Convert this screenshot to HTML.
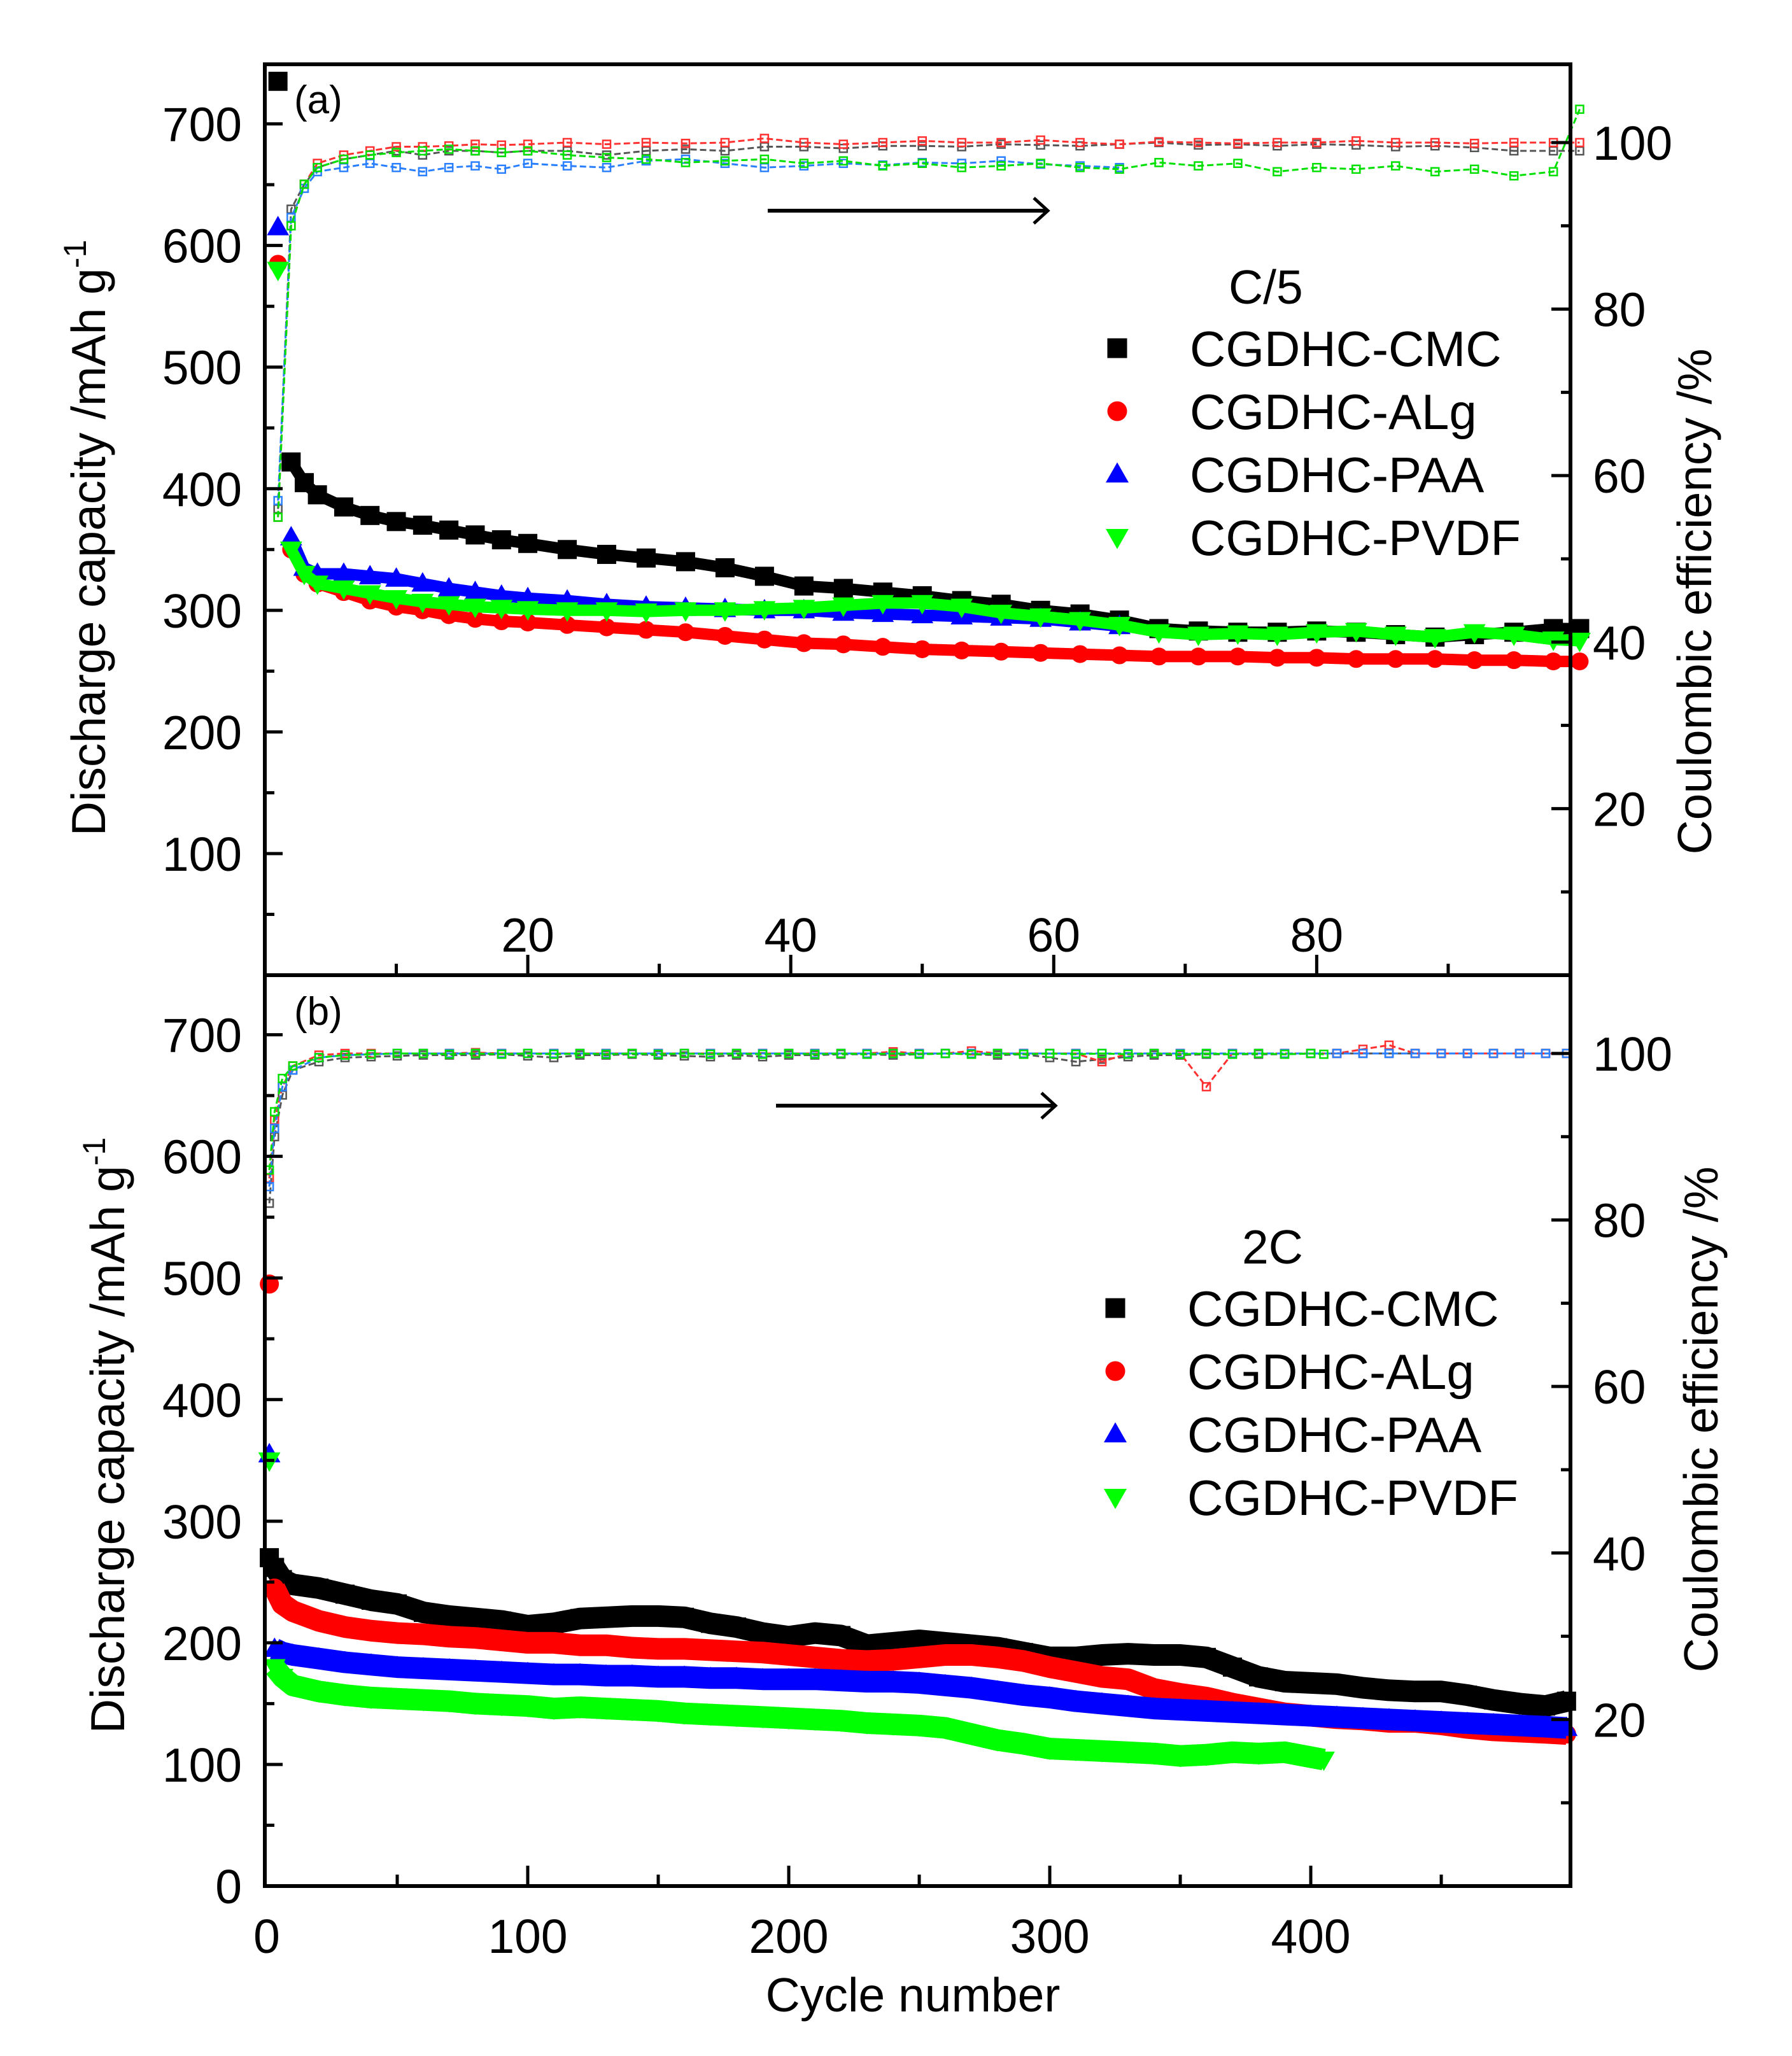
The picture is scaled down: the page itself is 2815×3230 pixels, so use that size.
<!DOCTYPE html>
<html><head><meta charset="utf-8"><style>
html,body{margin:0;padding:0;background:#fff;}
svg{display:block;font-family:"Liberation Sans",Arial,sans-serif;}
</style></head><body>
<svg id="chart" width="2815" height="3230" viewBox="0 0 2815 3230" xmlns="http://www.w3.org/2000/svg">
<rect x="0" y="0" width="2815" height="3230" fill="#fff"/>
</svg>
<script>
// ---------- Panel (a) C/5 data ----------
const cyclesA = [1,2,3,4,6,8,10,12,14,16,18,20,23,26,29,32,35,38,41,44,47,50,53,56,59,62,65,68,71,74,77,80,83,86,89,92,95,98,100];
const cmcA  = [735,422,405,395,385,378,373,370,366,362,358,355,350,346,343,340,335,328,320,318,315,312,308,305,300,297,292,285,283,282,282,283,282,280,278,280,282,285,285];
const algA  = [585,350,330,322,315,308,303,300,296,293,291,290,288,286,284,282,279,276,273,272,270,268,267,266,265,264,263,262,262,262,261,261,260,260,260,259,259,258,258];
const paaA  = [615,360,335,330,330,328,326,322,318,315,312,310,308,305,303,302,301,300,300,298,297,296,295,294,293,290,287];
const pvdfA = [580,350,330,322,318,314,310,307,305,303,302,301,300,300,299,300,300,301,302,304,306,306,303,298,295,292,288,282,280,281,280,282,283,280,278,282,280,276,275];
const ceCmcA  = [56,92,95,97,98,98.5,99,98.5,99,99,98.8,99,99,98.5,99,99.2,99,99.5,99.5,99.3,99.6,99.6,99.5,99.8,99.7,99.6,99.8,100,99.7,99.8,99.6,99.8,99.7,99.5,99.6,99.4,99,99,99];
const ceAlgA  = [55,90,95,97.5,98.5,99,99.5,99.5,99.6,99.8,99.7,99.8,100,99.8,100,99.9,100,100.5,100,99.8,100,100.2,100,100,100.3,100,99.8,100.1,100,99.9,100,100,100.2,100,100,99.9,100,100,100];
const cePaaA  = [57,91,94.5,96.5,97,97.5,97,96.5,97,97.2,96.8,97.5,97.2,97,97.8,98,97.5,97,97.2,97.5,97.3,97.6,97.5,97.8,97.4,97.2,97];
const cePvdfA = [55,90,95,97,98,98.5,98.8,99,99.2,99,98.8,99,98.5,98.2,98,97.6,97.8,98,97.5,97.8,97.2,97.5,97,97.2,97.5,97,96.8,97.6,97.2,97.5,96.5,97,96.8,97.2,96.5,96.8,96,96.5,104];

// ---------- Panel (b) 2C data ----------
const cyclesB = [1,3,6,10,20,30,40,50,60,70,80,90,100,110,120,130,140,150,160,170,180,190,200,210,220,230,240,250,260,270,280,290,300,310,320,330,340,350,360,370,380,390,400,410,420,430,440,450,460,470,480,490,498];
const cmcB  = [270,262,252,248,245,240,235,232,225,222,220,218,214,216,220,221,222,222,221,216,213,208,205,208,206,198,200,202,200,198,196,192,188,188,190,191,190,190,188,180,172,168,167,166,163,161,160,160,157,153,150,148,152];
const algB  = [495,245,232,226,218,213,210,208,207,205,204,202,200,200,198,198,196,195,195,194,193,192,190,188,186,185,186,188,190,190,188,185,180,176,172,170,162,158,155,150,146,142,140,138,137,135,135,133,130,128,127,126,125];
const paaB  = [355,195,192,190,187,184,182,180,179,178,177,176,175,174,174,173,173,172,172,171,171,170,170,170,169,168,168,167,165,163,160,157,155,152,150,148,146,145,144,143,142,141,140,139,138,137,136,135,134,133,132,131,130];
const pvdfB = [350,180,172,165,160,157,155,154,153,152,150,149,148,146,147,146,145,144,142,141,140,139,138,137,136,134,133,132,130,125,120,117,113,112,111,110,109,107,108,110,109,110,106,104];
const ceCmcB  = [82,90,95,98,99,99.5,99.6,99.7,99.8,99.8,99.8,99.9,99.7,99.5,99.8,99.8,99.9,99.8,99.7,99.6,99.8,99.6,99.8,99.8,99.9,99.9,99.8,99.9,100,99.9,99.8,99.9,99.5,99,99.3,99.6,99.8,99.8,99.9,99.9,99.9,99.9,100,100,100,100,100,100,100,100,100,100,100];
const ceAlgB  = [85,92,96,98.5,99.8,100,100,100,100,100,100.1,100,100,100,100,100,100,100,100,100,100,100,100,100,100,100,100.2,100,100,100.3,100,100,100,100,99,100,100,100,96,100,100,100,100,100,100.5,101,100,100,100,100,100,100,100];
const cePaaB  = [84,91,96,98,99.5,99.8,99.9,100,100,100,100,100,100,100,100,100,100,100,100,100,100,100,100,100,100,100,100,100,100,100,100,100,100,100,100,100,100,100,100,100,100,100,100,100,100,100,100,100,100,100,100,100,100];
const cePvdfB = [86,93,97,98.5,99.5,99.8,99.9,100,100,99.9,100,99.9,100,99.9,100,99.9,100,99.9,100,99.9,100,99.9,100,99.9,100,99.9,100,99.9,100,99.9,100,99.9,100,99.9,100,99.9,100,99.9,100,99.9,100,99.9,100,99.9];

const NS = "http://www.w3.org/2000/svg";
const svg = document.getElementById('chart');
function mk(tag, attrs, parent){ const e=document.createElementNS(NS,tag); for(const k in attrs) e.setAttribute(k,attrs[k]); (parent||svg).appendChild(e); return e; }

const L=416, R=2467;
const panels = {
  a:{top:101,bottom:1532,xmax:99.3,x0:L},
  b:{top:1532,bottom:2963,xmax:499.5,x0:419}
};
const VMAX=749, CEMAX=109.4;
function xS(p,c){ return p.x0 + c*(R-p.x0)/p.xmax; }
function yL(p,v){ return p.bottom - v*(p.bottom-p.top)/VMAX; }
function yR(p,v){ return p.bottom - v*(p.bottom-p.top)/CEMAX; }

const colors={cmc:'#000000',alg:'#ff0000',paa:'#0000ff',pvdf:'#00ff00'};
const ceColors={cmc:'#555555',alg:'#ff3030',paa:'#2a7fff',pvdf:'#00e000'};
const shapes={cmc:'square',alg:'circle',paa:'up',pvdf:'down'};

function marker(kind,x,y,s,fill,g){
  let e;
  if(kind==='square') e=mk('rect',{x:x-s/2,y:y-s/2,width:s,height:s,fill:fill},g);
  else if(kind==='circle') e=mk('circle',{cx:x,cy:y,r:s/2,fill:fill},g);
  else if(kind==='up') e=mk('polygon',{points:`${x},${y-s*0.6} ${x-s*0.58},${y+s*0.42} ${x+s*0.58},${y+s*0.42}`,fill:fill},g);
  else e=mk('polygon',{points:`${x},${y+s*0.6} ${x-s*0.58},${y-s*0.42} ${x+s*0.58},${y-s*0.42}`,fill:fill},g);
  return e;
}

function drawCE(p,key,cycles,vals,name){
  const g=mk('g',{});
  
  
  const pts=vals.map((v,i)=>xS(p,cycles[i]).toFixed(1)+','+yR(p,v).toFixed(1)).join(' ');
  mk('polyline',{points:pts,fill:'none',stroke:ceColors[key],'stroke-width':3,'stroke-dasharray':'10 5'},g);
  vals.forEach((v,i)=>{
    const m=mk('rect',{x:xS(p,cycles[i])-6,y:yR(p,v)-6,width:12,height:12,fill:'none',stroke:ceColors[key],'stroke-width':2.5},g);
    
    
  });
}
function drawCap(p,key,cycles,vals,name,band,ms){
  const g=mk('g',{});
  
  
  const pts=vals.slice(1).map((v,i)=>xS(p,cycles[i+1]).toFixed(1)+','+yL(p,v).toFixed(1)).join(' ');
  mk('polyline',{points:pts,fill:'none',stroke:colors[key],'stroke-width':band,'stroke-linejoin':'round'},g);
  vals.forEach((v,i)=>{
    const m=marker(shapes[key],xS(p,cycles[i]),yL(p,v),ms,colors[key],g);
    
    
  });
}

// CE series
drawCE(panels.a,'cmc',cyclesA,ceCmcA,'ce-cmc-a');
drawCE(panels.a,'alg',cyclesA,ceAlgA,'ce-alg-a');
drawCE(panels.a,'paa',cyclesA.slice(0,cePaaA.length),cePaaA,'ce-paa-a');
drawCE(panels.a,'pvdf',cyclesA,cePvdfA,'ce-pvdf-a');
drawCE(panels.b,'cmc',cyclesB,ceCmcB,'ce-cmc-b');
drawCE(panels.b,'alg',cyclesB,ceAlgB,'ce-alg-b');
drawCE(panels.b,'paa',cyclesB,cePaaB,'ce-paa-b');
drawCE(panels.b,'pvdf',cyclesB.slice(0,cePvdfB.length-1).concat([405]),cePvdfB,'ce-pvdf-b');

// capacity series
drawCap(panels.a,'cmc',cyclesA,cmcA,'capacity-cmc-a',18,30);
drawCap(panels.a,'alg',cyclesA,algA,'capacity-alg-a',18,28);
drawCap(panels.a,'paa',cyclesA.slice(0,paaA.length),paaA,'capacity-paa-a',18,30);
drawCap(panels.a,'pvdf',cyclesA,pvdfA,'capacity-pvdf-a',18,30);
drawCap(panels.b,'cmc',cyclesB,cmcB,'capacity-cmc-b',34,30);
drawCap(panels.b,'alg',cyclesB,algB,'capacity-alg-b',34,30);
drawCap(panels.b,'paa',cyclesB,paaB,'capacity-paa-b',34,30);
drawCap(panels.b,'pvdf',cyclesB.slice(0,pvdfB.length-1).concat([405]),pvdfB,'capacity-pvdf-b',34,30);

// axes
function txt(x,y,s,size,anchor,name,extra){
  const t=mk('text',Object.assign({x:x,y:y,'font-size':size,'text-anchor':anchor||'start',fill:'#000'},extra||{}));
  t.textContent=s;
  
  
  return t;
}
const leftTicks=[0,100,200,300,400,500,600,700];
const rightTicks=[20,40,60,80,100];
const xTicksA=[20,40,60,80];
const xTicksB=[0,100,200,300,400];
['a','b'].forEach(k=>{
  const p=panels[k];
  const frame=mk('rect',{x:L,y:p.top,width:R-L,height:p.bottom-p.top,fill:'none',stroke:'#000','stroke-width':6});
  
  
  for(let v=50; v<VMAX; v+=50){
    const major=v%100===0, y=yL(p,v);
    mk('line',{x1:L,x2:L+(major?28:15),y1:y,y2:y,stroke:'#000','stroke-width':5});
  }
  leftTicks.forEach(v=>{ if(k==='a'&&v===0) return; txt(380,yL(p,v)+27,String(v),75,'end','left-tick-label'); });
  for(let v=10; v<CEMAX; v+=10){
    const major=v%20===0, y=yR(p,v);
    mk('line',{x1:R,x2:R-(major?30:15),y1:y,y2:y,stroke:'#000','stroke-width':5});
  }
  rightTicks.forEach(v=>txt(2502,yR(p,v)+27,String(v),75,'start','right-tick-label'));
  const step=k==='a'?10:50;
  for(let c=step;c<p.xmax;c+=step){
    const major=(k==='a'?c%20===0:c%100===0), x=xS(p,c);
    mk('line',{x1:x,x2:x,y1:p.bottom,y2:p.bottom-(major?32:18),stroke:'#000','stroke-width':5});
  }
});
xTicksA.forEach(c=>txt(xS(panels.a,c),1495,String(c),75,'middle','x-tick-label-a'));
xTicksB.forEach(c=>txt(xS(panels.b,c),3068,String(c),75,'middle','x-tick-label-b'));

txt(1434,3160,'Cycle number',75,'middle','x-axis-title');
function vtitle(x,y,main,sup,name){
  const t=mk('text',{x:0,y:0,'font-size':75,'text-anchor':'middle',transform:`translate(${x},${y}) rotate(-90)`,fill:'#000'});
  
  
  t.appendChild(document.createTextNode(main));
  if(sup){ const s=document.createElementNS(NS,'tspan'); s.setAttribute('dy','-30'); s.setAttribute('font-size','50'); s.textContent=sup; t.appendChild(s); }
}
vtitle(165,845,'Discharge capacity /mAh g','-1','y-axis-title-a');
vtitle(195,2255,'Discharge capacity /mAh g','-1','y-axis-title-b');
vtitle(2688,945,'Coulombic efficiency /%','', 'y2-axis-title-a');
vtitle(2698,2230,'Coulombic efficiency /%','', 'y2-axis-title-b');

txt(462,178,'(a)',62,'start','panel-label-a');
txt(462,1610,'(b)',62,'start','panel-label-b');

function arrow(x1,x2,y,name){
  const g=mk('g',{});
  
  
  mk('line',{x1:x1,x2:x2-4,y1:y,y2:y,stroke:'#000','stroke-width':6},g);
  mk('path',{d:`M${x2-22},${y-20} L${x2},${y} L${x2-22},${y+20}`,fill:'none',stroke:'#000','stroke-width':5},g);
}
arrow(1206,1646,331,'ce-arrow-a');
arrow(1219,1658,1737,'ce-arrow-b');

const legendNames=['CGDHC-CMC','CGDHC-ALg','CGDHC-PAA','CGDHC-PVDF'];
const legendKeys=['cmc','alg','paa','pvdf'];
function legend(title,titleX,base0,textX,markX,name){
  const g=mk('g',{});
  
  
  txt(titleX,base0-98,title,75,'start','legend-title');
  legendKeys.forEach((k,i)=>{
    const b=base0+i*99;
    const m=marker(shapes[k],markX,b-28,31,colors[k],g);
    
    
    txt(textX,b,legendNames[i],78,'start','legend-entry-'+k);
  });
}
legend('C/5',1930,575,1869,1755,'legend-a');
legend('2C',1951,2083,1865,1752,'legend-b');
</script>
</body></html>
